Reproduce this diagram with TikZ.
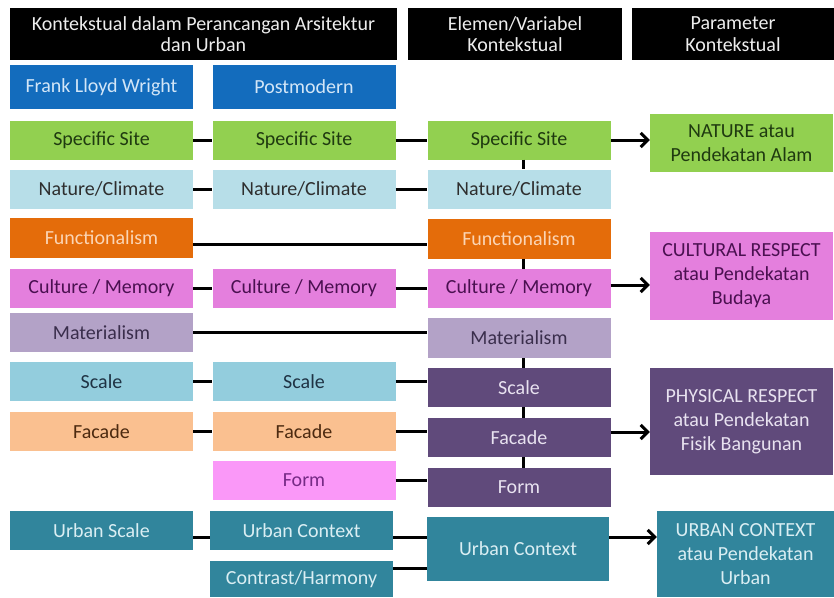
\documentclass[tikz,border=0pt]{standalone}
\usepackage{fontspec}
\setmainfont{Carlito}
\usepackage{xcolor}
\usepackage{tikz}
\usetikzlibrary{arrows.meta}
\definecolor{hdrbg}{HTML}{000000}
\definecolor{hdrtx}{HTML}{EDEDED}
\definecolor{archbg}{HTML}{136CBD}
\definecolor{archtx}{HTML}{D3E6F7}
\definecolor{sitebg}{HTML}{92D050}
\definecolor{sitetx}{HTML}{1F3A10}
\definecolor{climbg}{HTML}{B7DEE8}
\definecolor{climtx}{HTML}{2E2E2E}
\definecolor{funcbg}{HTML}{E46C0A}
\definecolor{functx}{HTML}{FBD5B5}
\definecolor{cultbg}{HTML}{E47FDD}
\definecolor{culttx}{HTML}{4A1050}
\definecolor{matrbg}{HTML}{B3A2C7}
\definecolor{matrtx}{HTML}{3A2E4C}
\definecolor{sclbg}{HTML}{93CDDD}
\definecolor{scltx}{HTML}{1F3344}
\definecolor{facabg}{HTML}{FAC090}
\definecolor{facatx}{HTML}{4C2A10}
\definecolor{formbg}{HTML}{FA98F8}
\definecolor{formtx}{HTML}{762A86}
\definecolor{physbg}{HTML}{604A7B}
\definecolor{phystx}{HTML}{E8E2F0}
\definecolor{urbnbg}{HTML}{31859C}
\definecolor{urbntx}{HTML}{DAEEF3}
\tikzset{
  cell/.style={inner sep=0pt, align=center, font=\fontsize{20}{24}\selectfont,
    minimum width=183pt, minimum height=39pt},
  hbox/.style={cell, fill=hdrbg, text=hdrtx, minimum height=52pt,
    font=\fontsize{20}{21.5}\selectfont},
  arch/.style={fill=archbg, text=archtx},
  site/.style={fill=sitebg, text=sitetx},
  clim/.style={fill=climbg, text=climtx},
  func/.style={fill=funcbg, text=functx},
  cult/.style={fill=cultbg, text=culttx},
  matr/.style={fill=matrbg, text=matrtx},
  scl/.style={fill=sclbg, text=scltx},
  faca/.style={fill=facabg, text=facatx},
  formp/.style={fill=formbg, text=formtx},
  phys/.style={fill=physbg, text=phystx},
  urbn/.style={fill=urbnbg, text=urbntx},
  link/.style={draw=black, line width=3pt},
  goes/.style={link, -{Straight Barb[length=7pt,width=14pt]}}
}

\begin{document}
\begin{tikzpicture}[x=1pt,y=-1pt]
  \fill[white] (0,0) rectangle (834,597);
  \useasboundingbox (0,0) rectangle (834,597);

  % Header row
  \node[hbox, minimum width=387pt] (hd1) at (203.5,34) {Kontekstual dalam Perancangan Arsitektur\\dan Urban};
  \node[hbox, minimum width=214pt] (hd2) at (515,34) {Elemen/Variabel\\Kontekstual};
  \node[hbox, minimum width=202pt] (hd3) at (733,34) {Parameter\\Kontekstual};

  % Column 1
  \node[cell, arch, minimum height=44pt] (flw) at (101.5,87) {Frank Lloyd Wright};
  \node[cell, site] (ss1) at (101.5,140) {Specific Site};
  \node[cell, clim] (nc1) at (101.5,189) {Nature/Climate};
  \node[cell, func, minimum height=40pt] (fn1) at (101.5,238) {Functionalism};
  \node[cell, cult] (cm1) at (101.5,288.5) {Culture / Memory};
  \node[cell, matr] (mt1) at (101.5,332.5) {Materialism};
  \node[cell, scl] (sc1) at (101.5,381.5) {Scale};
  \node[cell, faca] (fa1) at (101.5,431.5) {Facade};
  \node[cell, urbn] (us1) at (101.5,530.5) {Urban Scale};

  % Column 2
  \node[cell, arch, minimum height=44pt] (pm2) at (304,87) {Postmodern};
  \node[cell, site] (ss2) at (304,140) {Specific Site};
  \node[cell, clim] (nc2) at (304,189) {Nature/Climate};
  \node[cell, cult] (cm2) at (304,288.5) {Culture / Memory};
  \node[cell, scl] (sc2) at (304,381.5) {Scale};
  \node[cell, faca] (fa2) at (304,431.5) {Facade};
  \node[cell, formp] (fo2) at (304,480.5) {Form};
  \node[cell, urbn] (uc2) at (301.5,530.5) {Urban Context};
  \node[cell, urbn, minimum height=36pt] (ch2) at (301.5,579) {Contrast/Harmony};

  % Column 3
  \node[cell, site] (ss3) at (519,140) {Specific Site};
  \node[cell, clim] (nc3) at (519,189) {Nature/Climate};
  \node[cell, func, minimum height=40pt] (fn3) at (519,238.5) {Functionalism};
  \node[cell, cult] (cm3) at (519,288.5) {Culture / Memory};
  \node[cell, matr, minimum height=40pt] (mt3) at (519,338) {Materialism};
  \node[cell, phys] (sc3) at (519,387.5) {Scale};
  \node[cell, phys] (fa3) at (519,437.5) {Facade};
  \node[cell, phys] (fo3) at (519,487.5) {Form};
  \node[cell, urbn, minimum width=182pt, minimum height=64pt] (uc3) at (518,549) {Urban Context};

  % Column 4
  \node[cell, site, minimum height=58pt] (nat) at (741.5,143) {NATURE atau\\Pendekatan Alam};
  \node[cell, cult, minimum height=88pt] (cul) at (741.5,276) {CULTURAL RESPECT\\atau Pendekatan\\Budaya};
  \node[cell, phys, minimum height=107pt] (phy) at (741.5,421.5) {PHYSICAL RESPECT\\atau Pendekatan\\Fisik Bangunan};
  \node[cell, urbn, minimum width=177pt, minimum height=86pt] (urb) at (745.5,554) {URBAN CONTEXT\\atau Pendekatan\\Urban};

  % Links across the columns
  \draw[link] (ss1) -- (ss2);
  \draw[link] (ss2) -- (ss3);
  \draw[link] (nc1) -- (nc2);
  \draw[link] (nc2) -- (nc3);
  \draw[link] ([yshift=-6pt]fn1.east) -- ([yshift=-6pt]fn1.east -| fn3.west);
  \draw[link] (cm1) -- (cm2);
  \draw[link] (cm2) -- (cm3);
  \draw[link] (mt1.east) -- (mt1.east -| mt3.west);
  \draw[link] (sc1) -- (sc2);
  \draw[link] (sc2.east) -- (sc2.east -| sc3.west);
  \draw[link] (fa1) -- (fa2);
  \draw[link] (fa2.east) -- (fa2.east -| fa3.west);
  \draw[link] (fo2.east) -- (fo2.east -| fo3.west);
  \draw[link] ([yshift=-6.5pt]us1.east) -- ([yshift=-6.5pt]us1.east -| uc2.west);
  \draw[link] ([yshift=-6.5pt]uc2.east) -- ([yshift=-6.5pt]uc2.east -| uc3.west);
  \draw[link] ([yshift=11pt]ch2.east) -- ([yshift=11pt]ch2.east -| uc3.west);

  % Short ties inside column 3
  \foreach \a/\b in {ss3/nc3, fn3/cm3, mt3/sc3, sc3/fa3, fa3/fo3}
    \draw[link] ([xshift=4pt]\a.south) -- ([xshift=4pt]\b.north);

  % Arrows to the parameters
  \draw[goes] (ss3.east) -- (ss3.east -| nat.west);
  \draw[goes] ([yshift=3.5pt]cm3.east) -- ([yshift=3.5pt]cm3.east -| cul.west);
  \draw[goes] ([yshift=5.5pt]fa3.east) -- ([yshift=5.5pt]fa3.east -| phy.west);
  \draw[goes] ([yshift=12pt]uc3.east) -- ([yshift=12pt]uc3.east -| urb.west);
\end{tikzpicture}
\end{document}
